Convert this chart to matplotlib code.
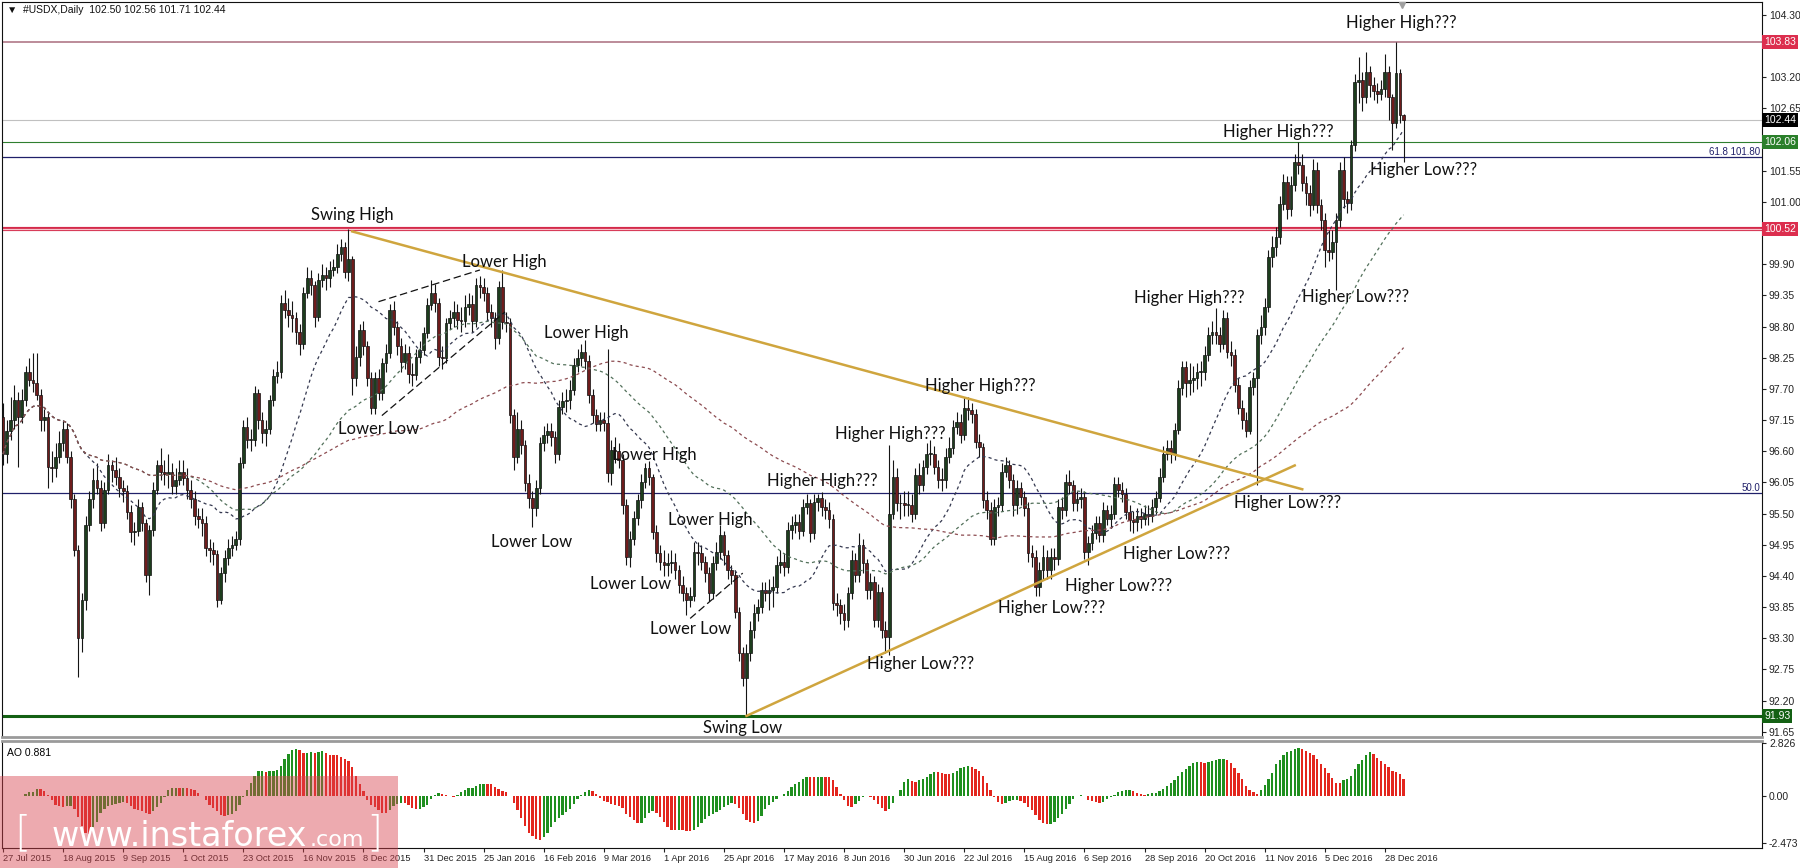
import numpy as np
import pandas as pd
import matplotlib
matplotlib.use("Agg")
import matplotlib.pyplot as plt
from matplotlib.patches import Rectangle

# USDX daily, 27 Jul 2015 .. 4 Jan 2017
first_open = 97.20
closes = [
    96.55, 96.95, 97.15, 97.50, 97.20, 97.50, 98.00, 97.86, 97.80, 97.60,
    97.15, 97.20, 96.33, 96.30, 96.50, 96.75, 97.00, 96.50, 95.75, 94.85,
    93.30, 93.98, 95.30, 95.75, 96.10, 95.95, 95.33, 95.92, 96.36, 96.27,
    96.15, 95.95, 95.90, 95.53, 95.18, 95.20, 95.62, 95.33, 94.42, 95.21,
    95.92, 96.36, 96.24, 96.20, 96.24, 95.98, 96.10, 96.24, 96.12, 95.92,
    95.75, 95.45, 95.40, 95.33, 94.89, 94.85, 94.78, 93.98, 94.45, 94.71,
    94.90, 94.95, 95.06, 96.39, 97.03, 96.80, 96.80, 97.62, 97.15, 96.92,
    97.00, 97.50, 97.92, 98.00, 99.21, 99.09, 99.00, 98.95, 98.70, 98.50,
    99.39, 99.65, 99.53, 98.97, 99.62, 99.71, 99.65, 99.80, 99.85, 100.09,
    100.21, 99.77, 100.00, 97.90, 98.27, 98.74, 98.45, 97.90, 97.36, 97.90,
    97.62, 98.15, 98.33, 99.09, 98.80, 98.45, 98.18, 98.33, 97.97, 97.95,
    98.27, 98.39, 98.68, 99.18, 99.39, 99.21, 98.27, 98.24, 98.86, 98.95,
    99.06, 98.92, 98.90, 99.15, 99.20, 98.90, 99.53, 99.50, 99.39, 99.06,
    98.95, 98.60, 99.50, 98.89, 98.86, 97.24, 96.50, 97.00, 96.71, 96.04,
    95.77, 95.60, 95.95, 96.74, 96.89, 96.95, 96.86, 96.56, 97.39, 97.48,
    97.50, 97.68, 98.12, 98.24, 98.36, 98.20, 97.60, 97.24, 97.09, 97.15,
    97.10, 96.21, 96.62, 96.60, 96.45, 95.65, 94.74, 95.06, 95.42, 95.74,
    96.06, 96.30, 96.15, 95.18, 94.80, 94.65, 94.60, 94.62, 94.65, 94.50,
    94.24, 94.10, 93.98, 94.04, 94.83, 94.80, 94.65, 94.45, 94.10, 94.62,
    94.83, 95.12, 94.77, 94.50, 94.42, 93.77, 93.04, 92.60, 93.04, 93.45,
    93.74, 93.85, 94.15, 94.10, 94.15, 94.20, 94.59, 94.65, 94.56, 95.21,
    95.30, 95.35, 95.20, 95.62, 95.68, 95.15, 95.71, 95.77, 95.62, 95.56,
    95.40, 93.92, 93.88, 93.74, 93.62, 94.09, 94.68, 94.42, 94.95, 94.62,
    94.15, 94.30, 93.62, 94.12, 93.45, 93.33, 95.50, 96.15, 95.68, 95.68,
    95.65, 95.65, 95.50, 96.18, 96.00, 96.33, 96.56, 96.56, 96.33, 96.10,
    96.09, 96.50, 96.65, 97.03, 97.12, 96.89, 97.36, 97.33, 97.25, 96.77,
    96.68, 95.74, 95.56, 95.06, 95.62, 95.65, 96.24, 96.36, 96.09, 95.65,
    95.95, 95.80, 95.60, 94.80, 94.74, 94.21, 94.50, 94.74, 94.50, 94.74,
    94.70, 95.62, 95.56, 96.06, 96.00, 95.68, 95.75, 95.80, 94.83, 94.98,
    95.15, 95.33, 95.12, 95.56, 95.40, 95.50, 96.03, 95.92, 95.85, 95.53,
    95.39, 95.35, 95.45, 95.40, 95.50, 95.45, 95.62, 95.77, 96.15, 96.56,
    96.65, 96.56, 96.97, 97.71, 98.09, 97.80, 97.86, 97.90, 98.00, 98.00,
    98.30, 98.65, 98.70, 98.65, 98.50, 98.95, 98.36, 98.30, 97.77, 97.36,
    97.15, 96.95, 97.74, 97.89, 98.65, 98.80, 99.15, 100.03, 100.21, 100.38,
    100.97, 101.36, 100.88, 101.30, 101.71, 101.65, 101.33, 101.15, 100.94, 101.56,
    100.94, 100.68, 100.15, 100.12, 100.30, 100.68, 101.56, 101.06, 100.98, 102.00,
    103.12, 103.15, 102.86, 103.30, 103.06, 102.95, 102.90, 103.00, 103.30, 102.86,
    102.39, 103.27, 102.53, 102.44,
]
highs = [
    97.45, 97.15, 97.55, 97.77, 97.65, 97.70, 98.10, 98.24, 98.33, 98.33,
    97.70, 97.35, 97.30, 96.60, 96.75, 96.95, 97.15, 97.10, 96.60, 95.85,
    94.95, 94.10, 95.45, 95.90, 96.30, 96.40, 96.10, 96.05, 96.55, 96.45,
    96.50, 96.30, 96.10, 96.00, 95.65, 95.35, 95.75, 95.70, 95.40, 95.30,
    96.05, 96.45, 96.65, 96.45, 96.55, 96.40, 96.30, 96.45, 96.45, 96.30,
    96.10, 95.90, 95.60, 95.60, 95.45, 95.05, 95.00, 94.85, 94.55, 94.85,
    95.05, 95.10, 95.20, 96.50, 97.15, 97.20, 97.00, 97.75, 97.70, 97.30,
    97.15, 97.60, 98.05, 98.20, 99.35, 99.45, 99.30, 99.25, 99.05, 98.85,
    99.50, 99.85, 99.80, 99.60, 99.75, 99.90, 99.85, 99.95, 100.00, 100.25,
    100.35, 100.30, 100.52, 100.05, 98.45, 98.85, 98.90, 98.55, 98.00, 98.00,
    98.05, 98.25, 98.50, 99.20, 99.25, 98.90, 98.60, 98.50, 98.45, 98.15,
    98.40, 98.55, 98.80, 99.30, 99.63, 99.55, 99.30, 98.45, 98.95, 99.10,
    99.25, 99.20, 99.15, 99.35, 99.40, 99.35, 99.65, 99.70, 99.65, 99.50,
    99.20, 99.05, 99.60, 99.80, 99.05, 98.95, 97.35, 97.30, 97.15, 96.80,
    96.20, 95.90, 96.10, 96.85, 97.05, 97.10, 97.10, 96.95, 97.50, 97.65,
    97.70, 97.85, 98.25, 98.40, 98.50, 98.56, 98.30, 97.70, 97.35, 97.30,
    97.30, 98.40, 96.80, 96.85, 96.75, 96.55, 95.75, 95.20, 95.55, 95.85,
    96.20, 96.40, 96.42, 96.20, 95.30, 94.95, 94.85, 94.80, 94.85, 94.80,
    94.60, 94.40, 94.20, 94.20, 95.00, 95.00, 94.95, 94.75, 94.55, 94.75,
    95.00, 95.30, 95.20, 94.85, 94.60, 94.50, 93.85, 93.15, 93.20, 93.60,
    93.90, 94.00, 94.30, 94.30, 94.35, 94.40, 94.75, 94.85, 94.80, 95.35,
    95.45, 95.50, 95.50, 95.75, 95.85, 95.75, 95.85, 95.85, 95.89, 95.75,
    95.70, 95.50, 94.10, 94.00, 93.90, 94.20, 94.85, 94.80, 95.15, 95.05,
    94.70, 94.45, 94.40, 94.25, 94.20, 93.60, 96.71, 96.45, 96.30, 95.85,
    95.90, 95.90, 95.85, 96.30, 96.40, 96.45, 96.75, 96.80, 96.70, 96.45,
    96.30, 96.65, 96.85, 97.15, 97.30, 97.25, 97.56, 97.55, 97.45, 97.35,
    96.90, 96.75, 95.90, 95.70, 95.75, 95.80, 96.40, 96.50, 96.45, 96.20,
    96.10, 96.05, 95.90, 95.70, 94.95, 94.85, 94.65, 94.95, 94.85, 94.90,
    94.90, 95.75, 95.80, 96.20, 96.27, 96.10, 95.90, 95.95, 95.90, 95.10,
    95.30, 95.45, 95.45, 95.70, 95.65, 95.65, 96.15, 96.15, 96.05, 95.95,
    95.65, 95.55, 95.60, 95.60, 95.65, 95.65, 95.75, 95.90, 96.30, 96.70,
    96.80, 96.80, 97.10, 97.85, 98.20, 98.20, 98.15, 98.10, 98.15, 98.20,
    98.45, 98.80, 98.90, 99.12, 98.80, 99.10, 99.05, 98.55, 98.40, 97.90,
    97.50, 97.30, 97.85, 98.00, 98.75, 99.00, 99.30, 100.15, 100.40, 100.55,
    101.10, 101.50, 101.45, 101.45, 101.85, 102.06, 101.85, 101.45, 101.30, 101.75,
    101.70, 101.05, 100.80, 100.50, 100.50, 100.80, 101.70, 101.80, 101.20, 102.10,
    103.25, 103.56, 103.30, 103.65, 103.40, 103.20, 103.10, 103.15, 103.62, 103.40,
    102.90, 103.83, 103.35, 102.56,
]
lows = [
    96.35, 96.40, 96.80, 97.00, 96.33, 97.10, 97.40, 97.75, 97.65, 97.50,
    96.95, 96.95, 95.95, 96.05, 96.15, 96.40, 96.60, 96.40, 95.60, 94.75,
    92.62, 93.05, 93.80, 95.20, 95.60, 95.85, 95.20, 95.25, 95.85, 96.05,
    96.00, 95.80, 95.70, 95.40, 95.00, 94.95, 95.10, 95.20, 94.30, 94.06,
    95.10, 95.85, 96.10, 96.00, 95.95, 95.85, 95.85, 96.00, 96.00, 95.75,
    95.60, 95.30, 95.25, 95.10, 94.75, 94.65, 94.60, 93.85, 93.90, 94.30,
    94.60, 94.75, 94.85, 94.95, 96.30, 96.65, 96.60, 96.70, 97.00, 96.75,
    96.70, 96.90, 97.40, 97.80, 97.90, 98.95, 98.80, 98.70, 98.50, 98.30,
    98.40, 99.30, 99.35, 98.80, 98.90, 99.50, 99.45, 99.50, 99.70, 99.75,
    99.95, 99.65, 99.60, 97.59, 97.75, 98.10, 98.30, 97.75, 97.25, 97.25,
    97.50, 97.50, 98.00, 98.25, 98.65, 98.30, 98.00, 98.05, 97.80, 97.75,
    97.85, 98.15, 98.30, 98.60, 99.10, 99.05, 98.10, 98.05, 98.15, 98.75,
    98.80, 98.75, 98.70, 98.80, 99.00, 98.70, 98.80, 99.30, 99.25, 98.90,
    98.80, 98.40, 98.50, 98.75, 98.70, 97.10, 96.27, 96.40, 96.55, 95.90,
    95.60, 95.27, 95.45, 95.85, 96.60, 96.75, 96.70, 96.40, 96.45, 97.25,
    97.30, 97.35, 97.60, 98.00, 98.10, 98.05, 97.45, 97.10, 96.95, 96.95,
    96.95, 96.05, 96.00, 96.40, 96.30, 95.50, 94.60, 94.55, 94.95, 95.30,
    95.60, 95.95, 96.00, 95.05, 94.65, 94.50, 94.40, 94.40, 94.45, 94.35,
    94.10, 93.95, 93.71, 93.85, 93.95, 94.60, 94.50, 94.30, 93.95, 94.00,
    94.50, 94.70, 94.60, 94.35, 94.25, 93.65, 92.90, 92.45, 91.93, 92.90,
    93.30, 93.60, 93.75, 93.95, 93.80, 93.85, 94.10, 94.45, 94.40, 94.45,
    95.05, 95.15, 95.05, 95.10, 95.50, 95.00, 95.05, 95.55, 95.45, 95.40,
    95.25, 93.80, 93.70, 93.55, 93.45, 93.50, 94.00, 94.30, 94.30, 94.45,
    94.00, 94.00, 93.50, 93.50, 93.30, 93.04, 93.00, 95.40, 95.55, 95.40,
    95.45, 95.45, 95.35, 95.40, 95.85, 95.90, 96.20, 96.35, 96.20, 95.95,
    95.90, 95.95, 96.40, 96.55, 96.90, 96.75, 96.80, 97.15, 97.10, 96.65,
    96.50, 95.60, 95.40, 94.95, 94.95, 95.45, 95.55, 96.15, 95.95, 95.45,
    95.50, 95.65, 95.45, 94.65, 94.55, 94.05, 94.05, 94.35, 94.35, 94.35,
    94.50, 94.60, 95.40, 95.45, 95.85, 95.55, 95.55, 95.60, 94.70, 94.60,
    94.85, 95.05, 95.00, 95.00, 95.30, 95.25, 95.40, 95.80, 95.70, 95.40,
    95.20, 95.15, 95.20, 95.25, 95.30, 95.30, 95.35, 95.50, 95.70, 96.05,
    96.45, 96.40, 96.45, 96.90, 97.60, 97.55, 97.60, 97.65, 97.70, 97.75,
    97.85, 98.20, 98.50, 98.50, 98.35, 98.40, 98.25, 98.10, 97.65, 97.25,
    97.00, 96.85, 96.90, 97.60, 96.00, 98.50, 98.65, 99.05, 99.85, 100.05,
    100.25, 100.85, 100.70, 100.75, 101.20, 101.50, 101.20, 100.95, 100.75, 100.85,
    100.80, 100.50, 99.86, 99.95, 100.00, 99.45, 100.55, 100.90, 100.80, 100.85,
    101.90, 102.75, 102.60, 102.75, 102.85, 102.80, 102.75, 102.80, 102.85, 102.45,
    101.92, 102.30, 102.40, 101.71,
]

date_labels = [
    "27 Jul 2015", "18 Aug 2015", "9 Sep 2015", "1 Oct 2015", "23 Oct 2015",
    "16 Nov 2015", "8 Dec 2015", "31 Dec 2015", "25 Jan 2016", "16 Feb 2016",
    "9 Mar 2016", "1 Apr 2016", "25 Apr 2016", "17 May 2016", "8 Jun 2016",
    "30 Jun 2016", "22 Jul 2016", "15 Aug 2016", "6 Sep 2016", "28 Sep 2016",
    "20 Oct 2016", "11 Nov 2016", "5 Dec 2016", "28 Dec 2016",
]
bars_per_label = 16

header = "#USDX,Daily  102.50 102.56 101.71 102.44"
ao_title = "AO 0.881"
ao_ticks = [2.826, 0.0, -2.473]

level_top = 103.83
level_bid = 102.44
level_green = 102.06
fib_618 = 101.80
level_res = 100.52
fib_50 = 95.86
level_low = 91.93

# swing annotations: (text, bar, price)
notes = [
    ("Swing High", 93.1, 100.77), ("Lower High", 133.4, 99.94),
    ("Lower Low", 100.1, 96.99), ("Lower High", 155.4, 98.69),
    ("Lower Low", 140.7, 95.00), ("Lower High", 173.5, 96.53),
    ("Lower Low", 167.1, 94.26), ("Lower High", 188.4, 95.39),
    ("Lower Low", 183.0, 93.46), ("Swing Low", 197.0, 91.72),
    ("Higher High???", 218.1, 96.08), ("Higher High???", 236.4, 96.90),
    ("Higher High???", 260.3, 97.75), ("Higher Low???", 244.4, 92.85),
    ("Higher Low???", 279.3, 93.83), ("Higher Low???", 297.0, 94.23),
    ("Higher Low???", 312.6, 94.78), ("Higher High???", 315.9, 99.30),
    ("Higher Low???", 342.2, 95.69), ("Higher Low???", 360.3, 99.32),
    ("Higher High???", 339.5, 102.24), ("Higher Low???", 378.3, 101.57),
    ("Higher High???", 372.5, 104.16),
]
# drawn trend lines: ((bar, price), (bar, price))
gold_lines = [((93.0, 100.48), (346.0, 95.93)), ((198.0, 91.93), (344.0, 96.35))]
dash_lines = [((100.0, 99.24), (127.0, 99.80)), ((100.9, 97.23), (133.7, 99.06)),
              ((183.0, 93.65), (197.0, 94.45))]

W, H = 1800, 868
plt.rcParams['font.family'] = ['Liberation Sans', 'DejaVu Sans']

c = np.array(closes)
hi = np.array(highs)
lo = np.array(lows)
o = np.concatenate([[first_open], c[:-1]])
n = len(c)
x = np.arange(n)

fig = plt.figure(figsize=(W / 100, H / 100), dpi=100)
ax = fig.add_axes([2 / W, 1 - 737 / H, 1760 / W, 735 / H])
ax2 = fig.add_axes([2 / W, 1 - 848 / H, 1760 / W, 107 / H], sharex=ax)

# candles
up = c >= o
ax.vlines(x, lo, hi, color='#151515', lw=0.8, zorder=2)
ax.bar(x, np.maximum(np.abs(c - o), 0.015), bottom=np.minimum(o, c), width=0.72,
       color=np.where(up, '#1d3d1d', '#6e1c1c'), edgecolor='#101010', linewidth=0.5, zorder=3)

# moving averages
s = pd.Series(c)
for win, col in [(21, '#34384f'), (50, '#52705a'), (100, '#8c4b50')]:
    ax.plot(x, s.rolling(win, min_periods=1).mean(), color=col, lw=0.9,
            ls=(0, (2.5, 2.5)), zorder=4)

# levels
ax.axhline(level_top, color='#b07888', lw=1.2, zorder=1)
ax.axhline(level_bid, color='#c0c0c0', lw=0.8, zorder=1)
ax.axhline(level_green, color='#2f7f2f', lw=0.8, zorder=1)
ax.axhline(fib_618, color='#20206a', lw=0.9, zorder=1)
ax.axhline(fib_50, color='#20206a', lw=0.9, zorder=1)
ax.axhline(level_res, color='#d42a4a', lw=3.0, zorder=1)
ax.axhline(level_res, color='#f7c4cc', lw=0.9, zorder=1)
ax.axhline(level_low, color='#136013', lw=2.2, zorder=1)

ax.text(0.999, fib_618, "61.8 101.80", transform=ax.get_yaxis_transform(), ha='right',
        va='bottom', fontsize=7, color='#20206a')
ax.text(0.999, fib_50, "50.0", transform=ax.get_yaxis_transform(), ha='right',
        va='bottom', fontsize=7, color='#20206a')

for (x0, y0), (x1, y1) in gold_lines:
    ax.plot([x0, x1], [y0, y1], color='#cfa53e', lw=1.8, zorder=5)
for (x0, y0), (x1, y1) in dash_lines:
    ax.plot([x0, x1], [y0, y1], color='#111111', lw=0.9, ls=(0, (6, 3)), zorder=5)

for txt, bx, py in notes:
    ax.text(bx, py, txt, ha='center', va='center', fontsize=12,
            family=['Lato', 'DejaVu Sans'], color='#111111', zorder=6)

ax.set_xlim((2 - 3) / 3.755, (1762 - 3) / 3.755)
ax.set_ylim(104.30 - 722 / 56.66, 104.30 + 13 / 56.66)

boxed = [level_top, level_bid, level_green, level_res, level_low]
yt = np.round(np.arange(91.65, 104.31, 0.55), 2)
ax.yaxis.tick_right()
ax.set_yticks(yt)
# labels sitting under a coloured price box are hidden, as on the terminal
ax.set_yticklabels(["" if min(abs(v - b) for b in boxed) < 0.1 else f"{v:.2f}" for v in yt])
ax.tick_params(axis='y', direction='out', length=3, width=0.8, labelsize=7.5, pad=2, colors='#222222')
ax.tick_params(axis='x', bottom=False, labelbottom=False)

def price_box(p, txt, fc):
    ax.text(1.0012, p, txt, transform=ax.get_yaxis_transform(), ha='left', va='center',
            fontsize=7.5, color='white', clip_on=False, zorder=10,
            bbox=dict(boxstyle='square,pad=0.2', fc=fc, ec='none'))

price_box(level_top, f"{level_top:.2f}", '#dc2e4e')
price_box(level_bid, f"{level_bid:.2f}", '#000000')
price_box(level_green, f"{level_green:.2f}", '#2a7f2a')
price_box(level_res, f"{level_res:.2f}", '#dc2e4e')
price_box(level_low, f"{level_low:.2f}", '#136013')

ax.text(0.003, 0.989, "\u25BC  " + header, transform=ax.transAxes, ha='left', va='center',
        fontsize=7.5, color='#111111')
ax.plot([372.5], [104.47], marker='v', color='#a0a0a0', ms=5, clip_on=False, zorder=6)

for side in ['top', 'left', 'right']:
    ax.spines[side].set_color('#111111')
ax.spines['bottom'].set_color('#9a9a9a')
ax.spines['bottom'].set_linewidth(2)

# Awesome Oscillator
med = pd.Series((hi + lo) / 2)
ao = (med.rolling(5, min_periods=1).mean() - med.rolling(34, min_periods=1).mean()).values
ao_col = np.where(np.diff(ao, prepend=ao[0]) >= 0, '#1f8f1f', '#e3261e')
ax2.bar(x, ao, width=0.62, color=ao_col, zorder=2)
ax2.set_ylim(-2.74, 2.93)
ax2.yaxis.tick_right()
ax2.set_yticks(ao_ticks)
ax2.set_yticklabels(["2.826", "0.00", "-2.473"])
ax2.tick_params(axis='y', direction='out', length=3, width=0.8, labelsize=7.5, pad=2, colors='#222222')
ax2.text(0.003, 0.93, ao_title, transform=ax2.transAxes, ha='left', va='top', fontsize=7.5)

xt = np.arange(len(date_labels)) * bars_per_label
ax2.set_xticks(xt)
ax2.set_xticklabels(date_labels)
for lbl in ax2.get_xticklabels():
    lbl.set_horizontalalignment('left')
ax2.tick_params(axis='x', direction='out', length=3, width=0.8, labelsize=6.7, pad=1, colors='#222222')
ax2.spines['top'].set_color('#9a9a9a')
ax2.spines['top'].set_linewidth(2)
for side in ['left', 'right', 'bottom']:
    ax2.spines[side].set_color('#111111')

# watermark
wm_font = ['DejaVu Sans']
fig.add_artist(Rectangle((0, 0), 398 / W, 92 / H, transform=fig.transFigure,
                         fc='#d9444f', ec='none', alpha=0.45, zorder=20))
fig.text(14 / W, 1 - 846 / H, "[", fontsize=30, color='white', fontweight='light',
         family=wm_font, va='baseline', zorder=21)
fig.text(52 / W, 1 - 846 / H, "www.instaforex", fontsize=24, color='white',
         family=wm_font, va='baseline', zorder=21)
fig.text(310 / W, 1 - 846 / H, ".com", fontsize=16, color='white', family=wm_font,
         va='baseline', zorder=21)
fig.text(366 / W, 1 - 846 / H, "]", fontsize=30, color='white', fontweight='light',
         family=wm_font, va='baseline', zorder=21)

fig.savefig("out.png", dpi=100, facecolor='white')
